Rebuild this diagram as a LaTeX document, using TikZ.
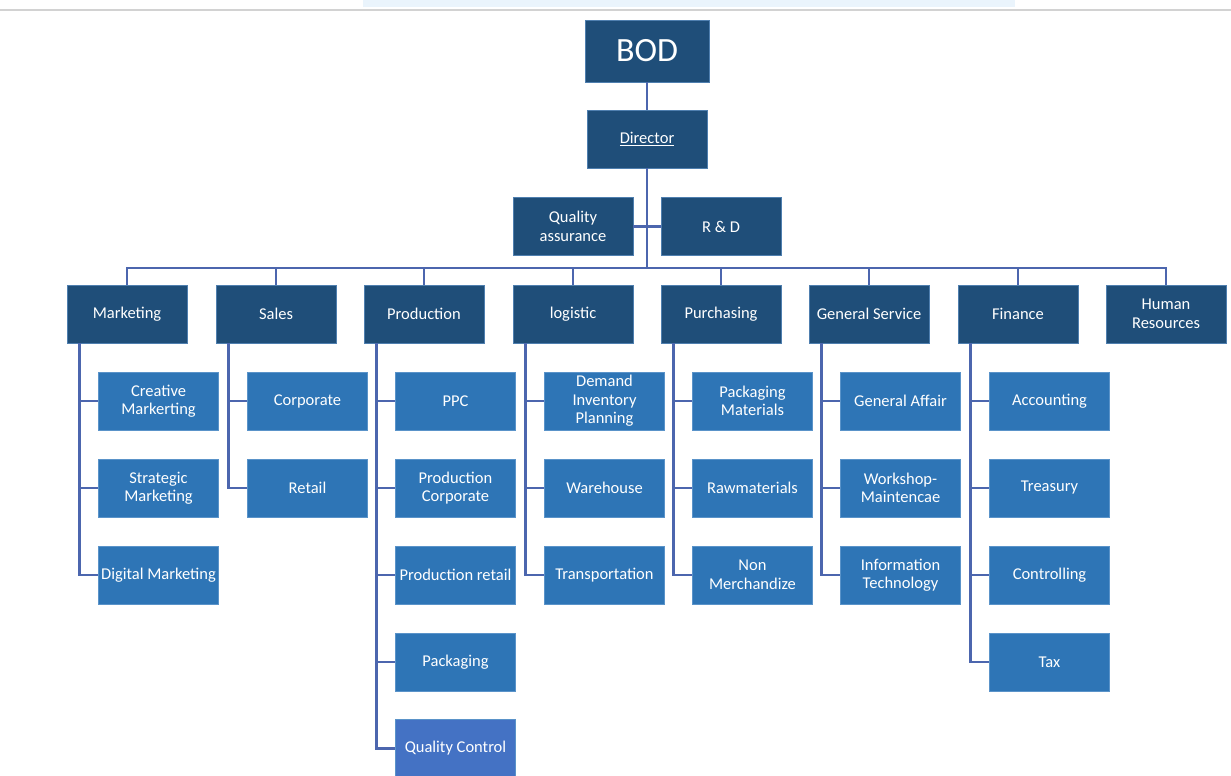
\documentclass[tikz,border=0pt]{standalone}
\usepackage{fontspec}
\setmainfont{Carlito}
\definecolor{dk}{HTML}{1F4E79}
\definecolor{dkbd}{HTML}{4F7FAF}
\definecolor{lt}{HTML}{2E75B6}
\definecolor{ltbd}{HTML}{5A93C9}
\definecolor{qc}{HTML}{4472C4}
\definecolor{ln}{HTML}{4C66AE}
\definecolor{strip}{HTML}{EAF4FC}
\tikzset{
  box/.style={draw, line width=0.8pt, text=white, minimum width=120pt, minimum height=58pt,
    align=center, inner sep=1pt, font=\fontsize{16.5}{18.5}\selectfont},
  parent/.style={box, fill=dk, draw=dkbd},
  child/.style={box, fill=lt, draw=ltbd},
  conn/.style={draw=ln, line width=2.8pt}
}
\begin{document}
\begin{tikzpicture}[x=1pt,y=-1pt]
\useasboundingbox (0,0) rectangle (1231,776);
% top screenshot strip
\fill[strip] (363,0) rectangle (1015,7);
\draw[gray!35, line width=1.5pt] (0,10) -- (1231,10);
% top
\node[parent, minimum width=124pt, minimum height=62pt, font=\fontsize{34}{36}\selectfont] (bod) at (647,51) {BOD};
\node[parent] (dir) at (647,139) {\underline{Director}};
\node[parent] (qa) at (573,226.5) {Quality\\assurance};
\node[parent] (rd) at (721,226.5) {R \& D};
\coordinate (bus) at (647,268);
\draw[conn] (bod.south) -- (dir.north);
\draw[conn] (dir.south) -- (bus);
\draw[conn] (qa.east) -- (rd.west);
% departments
\node[parent] (p1) at (127,314) {Marketing};
\node[parent] (p2) at (276,314) {Sales};
\node[parent] (p3) at (424,314) {Production};
\node[parent] (p4) at (573,314) {logistic};
\node[parent] (p5) at (721,314) {Purchasing};
\node[parent] (p6) at (869,314) {General Service};
\node[parent] (p7) at (1018,314) {Finance};
\node[parent] (p8) at (1166,314) {Human\\Resources};
\draw[conn] (p1.north) |- (bus) -| (p8.north);
\foreach \p in {p2,p3,p4,p5,p6,p7}{\draw[conn] (\p.north) -- (\p.north |- bus);}
% children
\node[child] (c11) at (158.5,401) {Creative\\Markerting};
\node[child] (c12) at (158.5,488) {Strategic\\Marketing};
\node[child] (c13) at (158.5,575) {Digital Marketing};
\node[child] (c21) at (307.5,401) {Corporate};
\node[child] (c22) at (307.5,488) {Retail};
\node[child] (c31) at (455.5,401) {PPC};
\node[child] (c32) at (455.5,488) {Production\\Corporate};
\node[child] (c33) at (455.5,575) {Production retail};
\node[child] (c34) at (455.5,662) {Packaging};
\node[child, fill=qc] (c35) at (455.5,748.5) {Quality Control};
\node[child] (c41) at (604.5,401) {Demand\\Inventory\\Planning};
\node[child] (c42) at (604.5,488) {Warehouse};
\node[child] (c43) at (604.5,575) {Transportation};
\node[child] (c51) at (752.5,401) {Packaging\\Materials};
\node[child] (c52) at (752.5,488) {Rawmaterials};
\node[child] (c53) at (752.5,575) {Non\\Merchandize};
\node[child] (c61) at (900.5,401) {General Affair};
\node[child] (c62) at (900.5,488) {Workshop-\\Maintencae};
\node[child] (c63) at (900.5,575) {Information\\Technology};
\node[child] (c71) at (1049.5,401) {Accounting};
\node[child] (c72) at (1049.5,488) {Treasury};
\node[child] (c73) at (1049.5,575) {Controlling};
\node[child] (c74) at (1049.5,662) {Tax};
% trunks
\foreach \p/\cs in {p1/{c11,c12,c13}, p2/{c21,c22}, p3/{c31,c32,c33,c34,c35},
  p4/{c41,c42,c43}, p5/{c51,c52,c53}, p6/{c61,c62,c63}, p7/{c71,c72,c73,c74}}{
  \foreach \c in \cs {\draw[conn] ([xshift=13pt]\p.south west) |- (\c.west);}
}
\end{tikzpicture}
\end{document}
